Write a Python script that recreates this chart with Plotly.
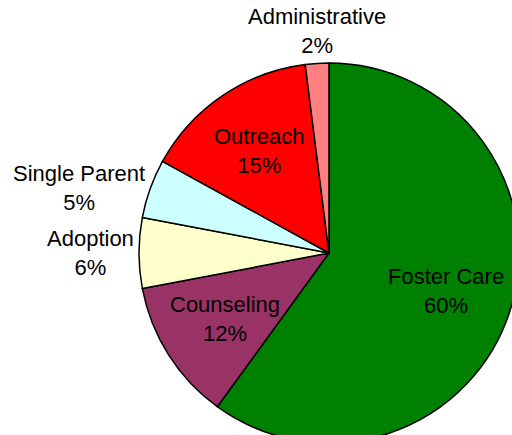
import math
import plotly.graph_objects as go

categories = ["Foster Care", "Counseling", "Adoption", "Single Parent", "Outreach", "Administrative"]
values = [60, 12, 6, 5, 15, 2]
colors = ["#008000", "#993366", "#FFFFCC", "#CCFFFF", "#FF0000", "#FF8080"]
label_inside = [True, True, False, False, True, False]

W, H = 520, 444
cx, cy, r = 329, 253, 190
FONT = dict(family="Liberation Sans, Arial, sans-serif", size=22, color="black")

fig = go.Figure(go.Pie(
    labels=categories,
    values=values,
    sort=False,
    direction="clockwise",
    rotation=0,
    marker=dict(colors=colors, line=dict(color="black", width=1.5)),
    textinfo="none",
    showlegend=False,
    hoverinfo="label+percent",
    domain=dict(x=[(cx - r) / W, (cx + r) / W], y=[1 - (cy + r) / H, 1 - (cy - r) / H]),
))

# data labels placed at each slice's mid-angle (computed from the values)
total = sum(values)
cum = 0
annotations = []
for name, v, inside in zip(categories, values, label_inside):
    mid = (cum + v / 2) / total * 2 * math.pi
    cum += v
    sx, sy = math.sin(mid), math.cos(mid)  # sy: upward
    pct = f"{round(v / total * 100)}%"
    if inside:
        rr = 0.65 * r
        xa, ya = "center", "middle"
    else:
        rr = r + 3
        xa = "right" if sx < -0.5 else ("left" if sx > 0.5 else "center")
        ya = "bottom" if sy > 0.5 else ("top" if sy < -0.5 else "middle")
    px = cx + rr * sx
    py = cy - rr * sy
    annotations.append(dict(
        x=px / W, y=1 - py / H, xref="paper", yref="paper",
        text=f"{name}<br>{pct}", showarrow=False,
        xanchor=xa, yanchor=ya, align="center", font=FONT,
    ))

fig.update_layout(
    width=W, height=H,
    margin=dict(l=0, r=0, t=0, b=0),
    paper_bgcolor="white",
    plot_bgcolor="white",
    annotations=annotations,
)

fig.write_html(
    "out.html",
    config={"displayModeBar": False},
    post_script="document.body.style.margin='0';document.body.style.overflow='hidden';document.documentElement.style.overflow='hidden';",
)
